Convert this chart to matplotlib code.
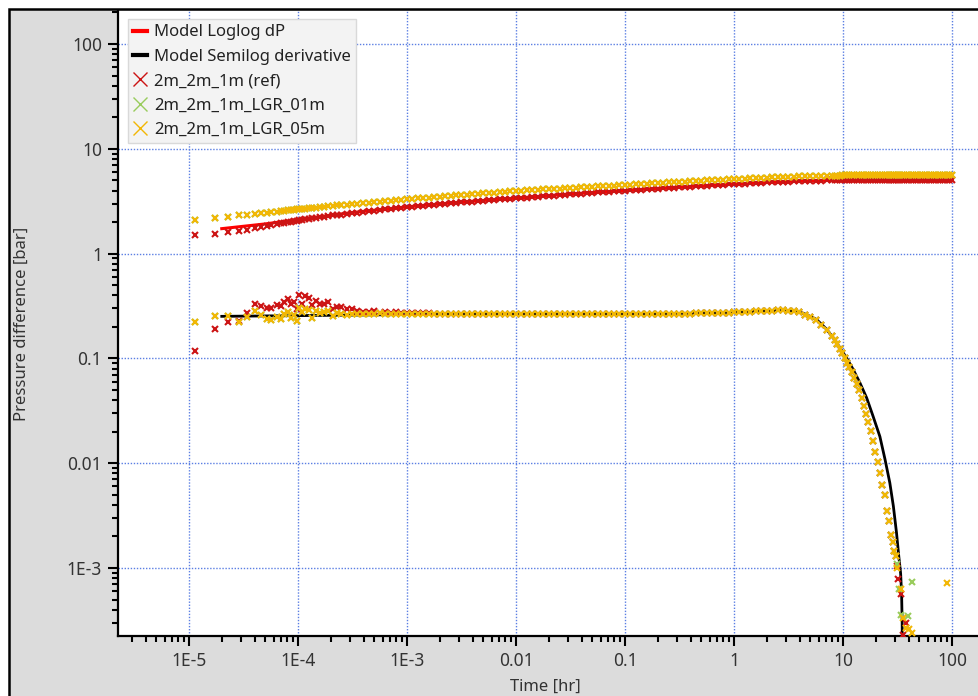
import matplotlib
matplotlib.use("Agg")
import matplotlib.pyplot as plt
from matplotlib.lines import Line2D
from matplotlib.patches import Rectangle
from matplotlib.ticker import LogLocator, NullFormatter

plt.rcParams['font.family'] = ['Noto Sans', 'DejaVu Sans']

# ---- early-time points (noisy part of the derivative) ----
t_early = [1.14e-5, 1.72e-5, 2.27e-5, 2.87e-5, 3.43e-5, 4.0e-5, 4.6e-5, 5.2e-5,
           5.7e-5, 6.4e-5, 7.0e-5, 7.5e-5, 8.1e-5, 8.6e-5, 9.2e-5, 9.7e-5,
           1.03e-4, 1.09e-4, 1.15e-4, 1.25e-4, 1.35e-4, 1.45e-4, 1.6e-4, 1.75e-4,
           1.9e-4, 2.1e-4, 2.3e-4, 2.5e-4, 2.8e-4, 3.1e-4, 3.5e-4]
p_ref_early = [1.49, 1.55, 1.61, 1.66, 1.69, 1.74, 1.78, 1.83, 1.86, 1.90, 1.94,
               1.96, 1.99, 2.02, 2.04, 2.06, 2.09, 2.11, 2.12, 2.15, 2.17, 2.19,
               2.22, 2.25, 2.28, 2.31, 2.34, 2.36, 2.40, 2.43, 2.46]
p_lgr_early = [2.11, 2.19, 2.25, 2.32, 2.34, 2.39, 2.42, 2.45, 2.48, 2.52, 2.55,
               2.57, 2.59, 2.61, 2.63, 2.64, 2.66, 2.67, 2.69, 2.71, 2.73, 2.75,
               2.78, 2.81, 2.83, 2.86, 2.89, 2.91, 2.94, 2.97, 3.00]
d_ref_early = [0.118, 0.191, 0.223, 0.225, 0.270, 0.331, 0.317, 0.301, 0.304,
               0.326, 0.314, 0.343, 0.372, 0.333, 0.343, 0.297, 0.406, 0.333,
               0.391, 0.378, 0.326, 0.350, 0.333, 0.328, 0.343, 0.297, 0.310,
               0.308, 0.299, 0.297, 0.281]
d_lgr_early = [0.223, 0.254, 0.252, 0.223, 0.247, 0.284, 0.262, 0.240, 0.235,
               0.249, 0.238, 0.268, 0.278, 0.241, 0.258, 0.226, 0.304, 0.280,
               0.297, 0.292, 0.244, 0.282, 0.272, 0.280, 0.286, 0.252, 0.272,
               0.268, 0.262, 0.264, 0.264]

# ---- radial-flow band ----
t_mid = [3.98e-4, 4.47e-4, 5.01e-4, 5.62e-4, 6.31e-4, 7.08e-4, 7.94e-4, 8.91e-4,
         1.00e-3, 1.12e-3, 1.26e-3, 1.41e-3, 1.58e-3, 1.78e-3, 2.00e-3, 2.24e-3,
         2.51e-3, 2.82e-3, 3.16e-3, 3.55e-3, 3.98e-3, 4.47e-3, 5.01e-3, 5.62e-3,
         6.31e-3, 7.08e-3, 7.94e-3, 8.91e-3,
         0.0100, 0.0112, 0.0126, 0.0141, 0.0158, 0.0178, 0.0200, 0.0224, 0.0251,
         0.0282, 0.0316, 0.0355, 0.0398, 0.0447, 0.0501, 0.0562, 0.0631, 0.0708,
         0.0794, 0.0891,
         0.100, 0.112, 0.126, 0.141, 0.158, 0.178, 0.200, 0.224, 0.251, 0.282,
         0.316, 0.355, 0.398, 0.447, 0.501, 0.562, 0.631, 0.708, 0.794, 0.891,
         1.00, 1.12, 1.26, 1.41, 1.58, 1.78, 2.00, 2.24, 2.51, 2.82, 3.16, 3.55,
         3.98, 4.47, 5.01, 5.62, 6.31, 7.08]
p_lgr_mid = [3.04, 3.07, 3.10, 3.14, 3.17, 3.20, 3.23, 3.27,
             3.30, 3.33, 3.37, 3.40, 3.43, 3.46, 3.50, 3.53, 3.56, 3.59, 3.63,
             3.66, 3.69, 3.72, 3.76, 3.79, 3.82, 3.85, 3.89, 3.92,
             3.95, 3.98, 4.01, 4.04, 4.06, 4.09, 4.12, 4.15, 4.18, 4.21, 4.24,
             4.26, 4.29, 4.32, 4.35, 4.38, 4.41, 4.44, 4.46, 4.49,
             4.52, 4.55, 4.58, 4.61, 4.64, 4.68, 4.71, 4.74, 4.77, 4.80, 4.83,
             4.86, 4.89, 4.92, 4.95, 4.99, 5.02, 5.05, 5.08, 5.11,
             5.14, 5.17, 5.20, 5.23, 5.26, 5.29, 5.32, 5.34, 5.37, 5.39, 5.41,
             5.43, 5.45, 5.47, 5.49, 5.51, 5.52, 5.54]
p_ref_mid = [2.50, 2.54, 2.57, 2.61, 2.64, 2.68, 2.71, 2.75,
             2.78, 2.81, 2.84, 2.87, 2.90, 2.93, 2.96, 2.99, 3.02, 3.05, 3.08,
             3.11, 3.14, 3.17, 3.20, 3.23, 3.26, 3.29, 3.32, 3.35,
             3.37, 3.40, 3.43, 3.46, 3.49, 3.52, 3.55, 3.58, 3.61, 3.64, 3.67,
             3.71, 3.74, 3.77, 3.80, 3.83, 3.86, 3.89, 3.92, 3.95,
             3.98, 4.01, 4.04, 4.07, 4.10, 4.14, 4.17, 4.20, 4.23, 4.26, 4.29,
             4.32, 4.35, 4.38, 4.41, 4.45, 4.48, 4.51, 4.54, 4.57,
             4.60, 4.63, 4.66, 4.69, 4.72, 4.75, 4.78, 4.80, 4.83, 4.85, 4.87,
             4.89, 4.91, 4.93, 4.95, 4.96, 4.98, 4.99]
d_lgr_mid = [0.265, 0.268, 0.266, 0.270, 0.264, 0.267, 0.265, 0.266,
             0.267, 0.265, 0.266, 0.266, 0.265, 0.266, 0.266, 0.265, 0.265, 0.266,
             0.266, 0.265, 0.265, 0.265, 0.266, 0.265, 0.265, 0.265, 0.265, 0.265,
             0.265, 0.265, 0.265, 0.265, 0.265, 0.265, 0.265, 0.265, 0.265, 0.265,
             0.265, 0.265, 0.265, 0.265, 0.265, 0.265, 0.265, 0.265, 0.265, 0.265,
             0.265, 0.265, 0.265, 0.265, 0.265, 0.266, 0.266, 0.266, 0.266, 0.267,
             0.267, 0.268, 0.268, 0.269, 0.269, 0.270, 0.271, 0.272, 0.273, 0.274,
             0.275, 0.276, 0.278, 0.279, 0.281, 0.283, 0.284, 0.286, 0.287, 0.287,
             0.286, 0.283, 0.277, 0.262, 0.248, 0.234, 0.210, 0.185]
# the reference run sits a little higher until ~2E-3 hr
d_ref_mid = [0.280, 0.276, 0.282, 0.274, 0.278, 0.272, 0.275, 0.271, 0.272,
             0.270, 0.271, 0.269, 0.270, 0.268] + d_lgr_mid[14:]

# ---- boundary-dominated fall-off ----
t_tail = [7.88, 8.44, 8.87, 9.38, 9.86, 10.4, 10.8, 11.4, 12.0, 12.7, 13.4, 14.0,
          14.8, 15.5, 16.3, 17.1, 17.9, 18.8, 19.8, 20.8, 21.8, 22.9, 24.1, 25.3,
          26.6, 27.7, 28.5, 29.4, 30.6]
d_tail = [0.165, 0.151, 0.136, 0.123, 0.113, 0.101, 0.0906, 0.0822, 0.0737,
          0.0651, 0.0571, 0.0496, 0.0420, 0.0355, 0.0295, 0.0249, 0.0202, 0.0164,
          0.0129, 0.0102, 0.00808, 0.00625, 0.00501, 0.00347, 0.00279, 0.00208,
          0.00176, 0.00145, 0.00129]
p_lgr_tail = [5.55, 5.55, 5.56, 5.56, 5.57, 5.57, 5.57, 5.58, 5.58, 5.58, 5.58,
              5.58, 5.58, 5.58, 5.58, 5.58, 5.58, 5.58, 5.58, 5.58, 5.58, 5.58,
              5.58, 5.58, 5.58, 5.58, 5.58, 5.58, 5.58]
p_ref_tail = [5.00, 5.00, 5.01, 5.01, 5.02, 5.02, 5.02, 5.02, 5.02, 5.02, 5.02,
              5.02, 5.02, 5.02, 5.02, 5.02, 5.02, 5.02, 5.02, 5.02, 5.02, 5.02,
              5.02, 5.02, 5.02, 5.02, 5.02, 5.02, 5.02]

# pressure only, up to the end of the test
t_late = [31.8, 33.3, 34.9, 36.6, 38.4, 40.3, 42.3, 44.3, 46.5, 48.7, 51.1, 53.6,
          56.2, 58.9, 61.8, 64.8, 67.9, 71.2, 74.7, 78.3, 82.1, 86.1, 90.3, 94.7,
          99.3]
p_lgr_late = [5.58, 5.58, 5.58, 5.58, 5.58, 5.58, 5.58, 5.58, 5.58, 5.58, 5.58,
              5.58, 5.58, 5.58, 5.58, 5.58, 5.58, 5.58, 5.58, 5.58, 5.58, 5.58,
              5.58, 5.58, 5.58]
p_ref_late = [5.01, 5.01, 5.01, 5.01, 5.01, 5.01, 5.01, 5.01, 5.01, 5.01, 5.01,
              5.01, 5.01, 5.01, 5.01, 5.01, 5.01, 5.01, 5.01, 5.01, 5.01, 5.01,
              5.01, 5.01, 5.01]

# last derivative points of each run
t_end_ref = [31.6, 32.1, 33.8, 35.3, 37.5]
d_end_ref = [1.05e-3, 7.8e-4, 5.7e-4, 2.3e-4, 3.0e-4]
t_end_01 = [31.2, 32.4, 33.8, 39.3, 43.2]
d_end_01 = [1.1e-3, 6.3e-4, 3.6e-4, 3.5e-4, 7.4e-4]
t_end_05 = [31.5, 34.0, 35.3, 37.9, 40.1, 43.3, 90.4]
d_end_05 = [1.0e-3, 6.3e-4, 3.3e-4, 2.7e-4, 2.6e-4, 2.4e-4, 7.2e-4]

# ---- analytical model ----
t_model_dp = [2.0e-5, 5.0e-5, 1.0e-4, 3.0e-4, 1.0e-3, 3.0e-3, 0.01, 0.03, 0.1,
              0.3, 1.0, 2.0, 3.0, 5.0, 7.0, 10.0, 20.0, 50.0, 100.0]
model_dp = [1.73, 1.92, 2.11, 2.45, 2.79, 3.09, 3.38, 3.69, 4.00, 4.30, 4.61,
            4.78, 4.87, 4.96, 5.00, 5.03, 5.03, 5.03, 5.03]
t_model_der = [2.0e-5, 1.0e-4, 1.0e-3, 0.01, 0.1, 0.5, 1.0, 2.0, 2.8, 3.77, 4.5,
               5.73, 7.0, 8.15, 10.8, 12.4, 14.3, 16.5, 18.9, 21.8, 24.3, 26.9,
               29.0, 31.0, 32.5, 33.8, 34.5, 34.9, 35.1]
model_der = [0.252, 0.256, 0.262, 0.265, 0.266, 0.270, 0.276, 0.283, 0.287, 0.282,
             0.265, 0.235, 0.192, 0.157, 0.101, 0.0785, 0.0585, 0.0420, 0.028,
             0.0180, 0.0109, 0.0065, 0.00389, 0.00216, 0.0013, 8.9e-4, 5.7e-4,
             3.1e-4, 1.5e-4]

xticks = [1e-5, 1e-4, 1e-3, 1e-2, 1e-1, 1, 10, 100]
xtick_labels = ['1E-5', '1E-4', '1E-3', '0.01', '0.1', '1', '10', '100']
yticks = [1e-3, 1e-2, 1e-1, 1, 10, 100]
ytick_labels = ['1E-3', '0.01', '0.1', '1', '10', '100']

RED = '#cc1414'
GREEN = '#99cc5c'
YELLOW = '#f2b705'
TXT = '#333333'

W, H = 979.0, 696.0
fig = plt.figure(figsize=(W / 100, H / 100), dpi=100)
# grey panel with a dark frame along its top and left edges
panel = Rectangle((9 / W, -0.1), 1.2, 1.1 - 9.5 / H, transform=fig.transFigure,
                  facecolor='#dcdcdc', edgecolor='black', lw=1.8, zorder=-10)
fig.add_artist(panel)

ax = fig.add_axes([118 / W, 60 / H, 1 - 118 / W, 625 / H])
ax.set_facecolor('white')
ax.set_xscale('log')
ax.set_yscale('log')
ax.set_xlim(2.234e-6, 177)
ax.set_ylim(2.245e-4, 206.5)

ax.grid(True, which='major', color='#5b7fe3', linestyle=(0, (1, 1.2)), lw=1.0)
ax.set_axisbelow(True)

ax.plot(t_model_dp, model_dp, color='#ff0000', lw=2.2, zorder=2)
ax.plot(t_model_der, model_der, color='black', lw=2.0, zorder=2)

mk = dict(linestyle='none', marker='x', ms=4.6, mew=1.5, zorder=3)
t_all = t_early + t_mid + t_tail
ax.plot(t_all + t_late, p_ref_early + p_ref_mid + p_ref_tail + p_ref_late, color=RED, **mk)
ax.plot(t_all + t_end_ref, d_ref_early + d_ref_mid + d_tail + d_end_ref, color=RED, **mk)
ax.plot(t_all + t_late, p_lgr_early + p_lgr_mid + p_lgr_tail + p_lgr_late, color=GREEN, **mk)
ax.plot(t_all + t_end_01, d_lgr_early + d_lgr_mid + d_tail + d_end_01, color=GREEN, **mk)
ax.plot(t_all + t_late, p_lgr_early + p_lgr_mid + p_lgr_tail + p_lgr_late, color=YELLOW, **mk)
ax.plot(t_all + t_end_05, d_lgr_early + d_lgr_mid + d_tail + d_end_05, color=YELLOW, **mk)

for side in ('top', 'right'):
    ax.spines[side].set_visible(False)
for side in ('left', 'bottom'):
    ax.spines[side].set_linewidth(1.6)
    ax.spines[side].set_color('black')

ax.set_xticks(xticks, xtick_labels)
ax.set_yticks(yticks, ytick_labels)
ax.xaxis.set_minor_locator(LogLocator(base=10, subs=range(2, 10), numticks=30))
ax.yaxis.set_minor_locator(LogLocator(base=10, subs=range(2, 10), numticks=30))
ax.xaxis.set_minor_formatter(NullFormatter())
ax.yaxis.set_minor_formatter(NullFormatter())
ax.tick_params(which='major', direction='out', length=7.5, width=1.5,
               color='black', labelcolor=TXT, labelsize=12.5, pad=4)
ax.tick_params(which='minor', direction='out', length=4.5, width=1.5, color='black')

ax.set_xlabel('Time [hr]', fontsize=12, color=TXT)
ax.set_ylabel('Pressure difference [bar]', fontsize=12, color=TXT)
ax.xaxis.set_label_coords(0.496, -0.068)
ax.yaxis.set_label_coords(-0.103, 0.5)

handles = [
    Line2D([], [], color='#ff0000', lw=3),
    Line2D([], [], color='black', lw=3),
    Line2D([], [], color=RED, marker='x', ms=10, mew=1.0, linestyle='none'),
    Line2D([], [], color=GREEN, marker='x', ms=10, mew=1.0, linestyle='none'),
    Line2D([], [], color=YELLOW, marker='x', ms=10, mew=1.0, linestyle='none'),
]
labels = ['Model Loglog dP', 'Model Semilog derivative', '2m_2m_1m (ref)',
          '2m_2m_1m_LGR_01m', '2m_2m_1m_LGR_05m']
leg = ax.legend(handles, labels, loc='upper left', bbox_to_anchor=(0.0116, 0.987),
                borderaxespad=0, fontsize=12, frameon=True, fancybox=False,
                framealpha=1, facecolor='#f3f3f3', edgecolor='#d9d9d9',
                handlelength=0.85, handletextpad=0.4, labelspacing=0.5,
                borderpad=0.32)
leg.get_frame().set_linewidth(1.0)
for txt in leg.get_texts():
    txt.set_color('#222222')

fig.savefig('out.png', dpi=100)
